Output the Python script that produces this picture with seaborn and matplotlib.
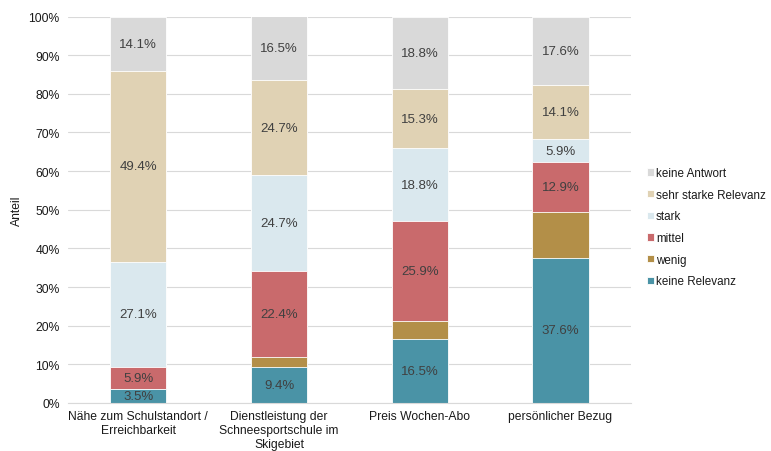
"""
Stacked relevance shares per criterion (percent of answers).
"""
import numpy as np
import pandas as pd
import matplotlib
matplotlib.use("Agg")
import matplotlib.pyplot as plt
import seaborn as sns

categories = ["Nähe zum Schulstandort /\nErreichbarkeit",
              "Dienstleistung der\nSchneesportschule im\nSkigebiet",
              "Preis Wochen-Abo",
              "persönlicher Bezug"]

# shares in percent, bottom to top
keine_relevanz = [3.5, 9.4, 16.5, 37.6]
wenig = [0.0, 2.4, 4.7, 11.8]
mittel = [5.9, 22.4, 25.9, 12.9]
stark = [27.1, 24.7, 18.8, 5.9]
sehr_stark = [49.4, 24.7, 15.3, 14.1]
keine_antwort = [14.1, 16.5, 18.8, 17.6]

levels = ["keine Relevanz", "wenig", "mittel", "stark",
          "sehr starke Relevanz", "keine Antwort"]
colors = ["#4A93A6", "#B38F48", "#C96A6C", "#DAE8EE", "#E0D2B4", "#D9D9D9"]
show_labels = [True, False, True, True, True, True]

df = pd.DataFrame({
    "Kategorie": categories,
    "keine Relevanz": keine_relevanz,
    "wenig": wenig,
    "mittel": mittel,
    "stark": stark,
    "sehr starke Relevanz": sehr_stark,
    "keine Antwort": keine_antwort,
})

sns.set_style("white")
plt.rcParams["font.family"] = ["Liberation Sans", "DejaVu Sans"]

fig = plt.figure(figsize=(7.71, 4.52), dpi=100)
ax = fig.add_axes([0.0882, 0.1062, 0.730, 0.855])

cum = df[levels].cumsum(axis=1)

# draw from top layer down so lower layers overlap the upper ones
for lvl, col in reversed(list(zip(levels, colors))):
    sns.barplot(x=df["Kategorie"], y=cum[lvl], color=col, width=0.4,
                saturation=1, edgecolor="white", linewidth=0.6, ax=ax,
                label=lvl, order=categories)

# segment labels
for i in range(len(categories)):
    for j, lvl in enumerate(levels):
        if not show_labels[j]:
            continue
        val = df.loc[i, lvl]
        if val <= 0:
            continue
        mid = cum.loc[i, lvl] - val / 2
        ax.text(i, mid, f"{val:.1f}%", ha="center", va="center",
                fontsize=9.5, color="#404040")

ax.set_ylim(0, 100)
ax.set_xlim(-0.5, 3.5)
ax.set_yticks(np.arange(0, 101, 10))
ax.set_yticklabels([f"{t}%" for t in range(0, 101, 10)])
ax.yaxis.grid(True, color="#D9D9D9", linewidth=0.8)
ax.set_axisbelow(True)
for s in ["top", "right", "left"]:
    ax.spines[s].set_visible(False)
ax.spines["bottom"].set_color("#D9D9D9")
ax.tick_params(axis="both", length=0, labelsize=8.7, colors="#1a1a1a")
ax.tick_params(axis="y", pad=6)
ax.tick_params(axis="x", pad=5)
ax.set_xlabel("")
ax.set_ylabel("Anteil", fontsize=8.7, color="#1a1a1a", labelpad=4)

handles, labels = ax.get_legend_handles_labels()
if ax.get_legend() is not None:
    ax.get_legend().remove()
fig.legend(handles, labels, loc="center left",
           bbox_to_anchor=(636 / 771, 0.495), frameon=False, fontsize=8.4,
           handlelength=0.6, handleheight=0.6, handletextpad=0.2,
           labelspacing=0.83, labelcolor="#1a1a1a")

fig.savefig("out.png", dpi=100)
